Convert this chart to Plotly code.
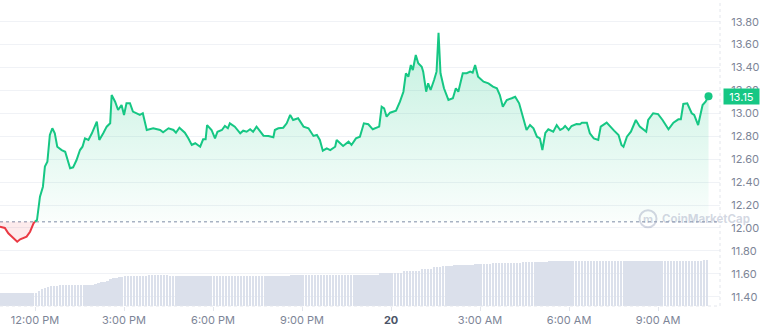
import numpy as np
import plotly.graph_objects as go

# ---- data ----
# time in minutes relative to 12:00 PM of day 19
minutes = [-71, -61, -54, -47, -40, -36, -30, -24, -17, -10, -3, 0,
           4, 10, 16, 20, 25, 30, 35, 40, 45, 54, 61, 71, 77, 84, 91, 96, 101, 108, 115, 125,
           130, 138, 145, 152, 155, 162, 168, 175, 180, 185, 192, 198, 212, 218, 226, 239,
           253, 259, 270, 280, 285, 292, 300, 303, 310, 317, 324, 334, 340, 345, 348, 357,
           364, 369, 378, 384, 390, 394, 404, 415, 421, 428, 435, 441, 448, 455, 462, 472,
           482, 485, 492, 502, 509, 516, 522, 532, 543, 553, 563, 570, 576, 582, 590, 597,
           607, 610, 623, 634, 640, 649, 657, 665, 674, 683, 688, 696, 701, 706, 711, 718,
           730, 738, 745, 750, 755, 760, 764, 770, 775, 782, 785, 791, 795, 800, 807, 812,
           816, 820, 827, 836, 845, 851, 856, 865, 873, 880, 885, 890, 896, 907, 917, 926,
           934, 940, 946, 954, 964, 971, 979, 987, 994, 1001, 1008, 1015, 1021, 1026, 1032, 1038,
           1048, 1055, 1062, 1068, 1072, 1079, 1085, 1095, 1102, 1106, 1116, 1122, 1130, 1139, 1144, 1156,
           1163, 1171, 1180, 1186, 1190, 1197, 1205, 1215, 1223, 1236, 1240, 1250, 1260, 1269, 1281, 1291,
           1301, 1306, 1311, 1319, 1328, 1333, 1341, 1350, 1356, 1362]
prices = [12.01, 12.00, 11.953, 11.924, 11.895, 11.88, 11.901, 11.91, 11.924, 11.967, 12.041, 12.055,
          12.069, 12.273, 12.36, 12.535, 12.578, 12.811, 12.87, 12.826, 12.709, 12.68, 12.665, 12.521, 12.529, 12.593, 12.68, 12.709, 12.782, 12.768, 12.826, 12.927,
          12.768, 12.826, 12.884, 12.913, 13.16, 13.102, 13.029, 13.073, 12.986, 13.088, 13.088, 13.015, 12.986, 13.001, 12.855, 12.87,
          12.855, 12.835, 12.87, 12.855, 12.831, 12.875, 12.84, 12.831, 12.782, 12.724, 12.739, 12.709, 12.774, 12.774, 12.898, 12.855,
          12.782, 12.84, 12.855, 12.89, 12.87, 12.913, 12.884, 12.826, 12.849, 12.84, 12.861, 12.84, 12.884, 12.84, 12.805, 12.803,
          12.791, 12.855, 12.87, 12.875, 12.913, 12.986, 12.942, 12.957, 12.884, 12.87, 12.803, 12.811, 12.768, 12.674, 12.695, 12.68,
          12.709, 12.768, 12.715, 12.753, 12.724, 12.782, 12.796, 12.913, 12.905, 12.861, 12.87, 12.884, 13.058, 13.044, 12.971, 13.006,
          13.023, 13.102, 13.189, 13.35, 13.32, 13.422, 13.378, 13.509, 13.437, 13.407, 13.364, 13.189, 13.262, 13.204, 13.291, 13.364,
          13.704, 13.35, 13.219, 13.117, 13.132, 13.219, 13.189, 13.35, 13.35, 13.364, 13.355, 13.422, 13.32, 13.276, 13.262, 13.233,
          13.219, 13.16, 13.058, 13.117, 13.132, 13.145, 13.088, 12.971, 12.855, 12.898, 12.87, 12.796, 12.782, 12.68, 12.829, 12.861,
          12.84, 12.898, 12.855, 12.87, 12.89, 12.855, 12.89, 12.907, 12.905, 12.919, 12.919, 12.826, 12.782, 12.768, 12.884, 12.919,
          12.884, 12.849, 12.811, 12.724, 12.709, 12.796, 12.84, 12.942, 12.884, 12.84, 12.942, 13.001, 12.994, 12.942, 12.861, 12.919,
          12.948, 12.948, 13.082, 13.088, 13.001, 12.986, 12.898, 13.073, 13.102, 13.15]
open_price = 12.0545

# volume bars (6-minute bars from 10:51 AM), given as runs of equal height
vol_start_min = -69
vol_step_min = 6
vol_levels = [4.4, 4.9, 5.4, 5.9, 6.2, 6.4, 6.6, 6.7, 6.8, 6.9, 7.0,
              7.3, 7.5, 7.7, 8.0, 8.3, 8.7, 9.0, 9.2, 9.4, 9.5, 9.7,
              9.8, 10.1, 9.9, 10.2,
              10.9, 11.4, 12.0, 12.6, 13.1, 13.4, 13.7, 14.1, 14.3, 14.6, 14.8, 15.0]
vol_counts = [13, 1, 1, 1, 1, 1, 1, 1, 1, 7, 4,
              1, 1, 1, 1, 1, 1, 1, 1, 1, 1, 1,
              7, 7, 41, 30,
              8, 6, 4, 3, 4, 7, 6, 10, 9, 34, 18, 2]

tick_minutes = [0, 180, 360, 540, 720, 900, 1080, 1260]
tick_labels = ["12:00 PM", "3:00 PM", "6:00 PM", "9:00 PM",
               '<span style="color:#4b5468"><b>20</b></span>', "3:00 AM", "6:00 AM", "9:00 AM"]
y_ticks = [11.4, 11.6, 11.8, 12.0, 12.2, 12.4, 12.6, 12.8, 13.0, 13.2, 13.4, 13.6, 13.8]

GREEN = "#16c784"
RED = "#ea3943"

volumes = np.repeat(vol_levels, vol_counts)
vol_x = vol_start_min + vol_step_min * np.arange(len(volumes))

m = np.array(minutes, dtype=float)
p = np.array(prices, dtype=float)
j = int(np.argmax(m >= 0))  # junction index where price rejoins open level

fig = go.Figure()

fig.add_trace(go.Bar(x=vol_x, y=volumes, width=3.8, marker=dict(color="#dbe0eb", line_width=0),
                     yaxis="y2", hoverinfo="skip", showlegend=False))

# red segment
fig.add_trace(go.Scatter(x=[m[0], m[j]], y=[open_price, open_price], mode="lines",
                         line=dict(width=0, color="rgba(0,0,0,0)"), showlegend=False, hoverinfo="skip"))
fig.add_trace(go.Scatter(x=m[:j + 1], y=p[:j + 1], mode="lines", line=dict(color=RED, width=2),
                         fill="tonexty", fillcolor="rgba(234,57,67,0.10)", showlegend=False))
# green segment
fig.add_trace(go.Scatter(x=[m[j], m[-1]], y=[open_price, open_price], mode="lines",
                         line=dict(width=0, color="rgba(0,0,0,0)"), showlegend=False, hoverinfo="skip"))
fig.add_trace(go.Scatter(x=m[j:], y=p[j:], mode="lines", line=dict(color=GREEN, width=2),
                         fill="tonexty",
                         fillgradient=dict(type="vertical",
                                           colorscale=[[0, "rgba(22,199,132,0.02)"], [1, "rgba(22,199,132,0.26)"]],
                                           start=open_price, stop=13.7),
                         showlegend=False))
fig.add_trace(go.Scatter(x=[m[-1]], y=[p[-1]], mode="markers", marker=dict(color=GREEN, size=8),
                         showlegend=False))

# open-price dotted line
fig.add_shape(type="line", xref="paper", x0=0, x1=1, yref="y", y0=open_price, y1=open_price,
              line=dict(color="#a9b2c4", width=1.5, dash="dot"), layer="below")
# right and bottom borders
fig.add_shape(type="line", xref="paper", x0=1, x1=1, yref="paper", y0=0, y1=1,
              line=dict(color="#e3e6ec", width=1, dash="dot"))
fig.add_shape(type="line", xref="paper", x0=0, x1=1, yref="paper", y0=0, y1=0,
              line=dict(color="#e3e6ec", width=1, dash="dot"))

# watermark
WM = "rgba(150,160,186,0.42)"
fig.add_shape(type="circle", xref="paper", yref="y", xsizemode="pixel", ysizemode="pixel",
              xanchor=648 / 720, yanchor=12.08, x0=-8.5, x1=8.5, y0=-8.5, y1=8.5,
              line=dict(color=WM, width=2))
fig.add_annotation(xref="paper", yref="y", x=648 / 720, y=12.08, text="<b>m</b>", showarrow=False,
                   font=dict(family="Inter", size=11, color=WM), xanchor="center", yanchor="middle")
fig.add_annotation(xref="paper", yref="y", x=660 / 720, y=12.08, text="<b>CoinMarketCap</b>", showarrow=False,
                   font=dict(family="Inter", size=11.5, color=WM), xanchor="left", yanchor="middle")

# current price tag
fig.add_annotation(xref="paper", yref="y", x=1, y=p[-1], xshift=3, xanchor="left", yanchor="middle",
                   text=f"{p[-1]:.2f}", showarrow=False, bgcolor=GREEN, borderpad=2, width=31, height=11,
                   font=dict(family="Inter", size=11, color="white"))

fig.update_layout(
    width=760, height=327,
    margin=dict(l=0, r=40, t=0, b=21),
    paper_bgcolor="white", plot_bgcolor="white",
    font=dict(family="Inter", size=11, color="#7d8597"),
    showlegend=False,
    bargap=0,
    xaxis=dict(range=[-70.8, 1385.2], tickvals=tick_minutes, ticktext=tick_labels,
               showgrid=False, zeroline=False, ticks="outside", ticklen=4, tickcolor="#e3e6ec",
               tickfont=dict(family="Inter", size=11, color="#7d8597")),
    yaxis=dict(side="right", range=[11.3188, 13.9894], tickvals=y_ticks, tickformat=".2f",
               showgrid=True, gridcolor="#f0f2f6", gridwidth=1, zeroline=False,
               ticks="outside", ticklen=8, tickcolor="rgba(0,0,0,0)",
               tickfont=dict(family="Inter", size=11, color="#7d8597")),
    yaxis2=dict(overlaying="y", range=[0, 100], visible=False),
)

fig.write_html("out.html")
